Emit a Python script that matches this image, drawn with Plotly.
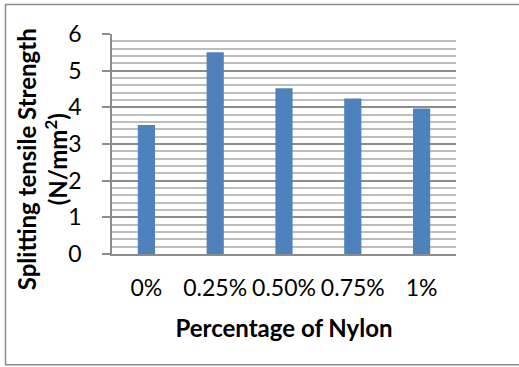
import plotly.graph_objects as go

categories = ["0%", "0.25%", "0.50%", "0.75%", "1%"]
values = [3.52, 5.50, 4.52, 4.24, 3.97]
y_ticks = [0, 1, 2, 3, 4, 5, 6]

W, H = 519, 367
L, R, T, B = 112, 63, 34, 112.5
pw, ph = W - L - R, H - T - B

def px_x(x):
    return (x - L) / pw

def px_y(y):
    return (H - B - y) / ph

fig = go.Figure(go.Bar(x=categories, y=values, marker=dict(color="#4F81BD", line=dict(width=0)), width=0.25))

font = "Lato, 'Open Sans', sans-serif"
fig.update_layout(
    width=W, height=H,
    margin=dict(l=L, r=R, t=T, b=B),
    paper_bgcolor="white", plot_bgcolor="white",
    showlegend=False,
    font=dict(family=font, color="#000000", size=23),
    shapes=[dict(type="rect", xref="paper", yref="paper",
                 x0=px_x(5.5), x1=px_x(530), y0=px_y(365.5), y1=px_y(4.5),
                 line=dict(color="#8c8c8c", width=1.5), fillcolor="rgba(0,0,0,0)", layer="below")],
    annotations=[dict(text="<b>Splitting tensile Strength<br>(N/mm<sup>2</sup>)</b>",
                      xref="paper", yref="paper", x=px_x(42), y=px_y(159.5),
                      xanchor="center", yanchor="middle", textangle=-90, showarrow=False,
                      font=dict(size=24, family=font, color="#000000"))],
)
fig.update_xaxes(
    showline=True, linecolor="#8c8c8c", linewidth=1.5,
    ticks="", showgrid=False,
    tickfont=dict(size=23),
    ticklabelstandoff=13,
    title=dict(text="<b>Percentage of Nylon</b>", font=dict(size=24), standoff=20),
)
fig.update_yaxes(
    range=[0, 6], tickvals=y_ticks, ticktext=[str(v) for v in y_ticks],
    showline=True, linecolor="#8c8c8c", linewidth=1.5,
    ticks="outside", ticklen=8, tickcolor="#8c8c8c", tickwidth=1.5,
    ticklabelstandoff=16,
    showgrid=True, gridcolor="#8c8c8c", gridwidth=1.5,
    minor=dict(dtick=0.2, showgrid=True, gridcolor="#bdbdbd", gridwidth=1.5, ticks=""),
    tickfont=dict(size=23),
    zeroline=False,
)

fig.write_html("out.html")
